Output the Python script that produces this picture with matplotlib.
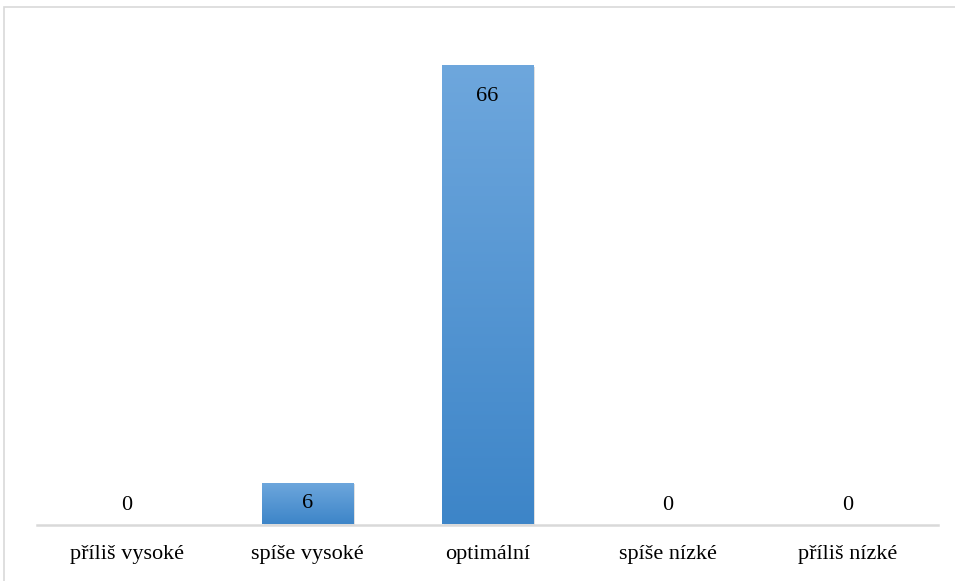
import matplotlib
matplotlib.use("Agg")
import matplotlib.pyplot as plt
import numpy as np
from matplotlib.patches import Rectangle
from matplotlib.colors import LinearSegmentedColormap

categories = ["příliš vysoké", "spíše vysoké", "optimální", "spíše nízké", "příliš nízké"]
values = [0, 6, 66, 0, 0]

W, H = 955, 581
plt.rcParams['font.family'] = ['Liberation Serif', 'DejaVu Serif']
fig = plt.figure(figsize=(W/100, H/100), dpi=100)

# outer frame
fig.patches.append(Rectangle((3.5/W, -0.01), 1.2, (H-7.5)/H + 0.01, transform=fig.transFigure,
                             fill=False, edgecolor='#d9d9d9', linewidth=1.2))

left, right, bottom, top = 37, 938, 524.5, 37.5
ax = fig.add_axes([left/W, 1-bottom/H, (right-left)/W, (bottom-top)/H])
x = np.arange(len(categories))
bars = ax.bar(x, values, width=0.505, color='none', edgecolor='none')
grad = np.linspace(1, 0, 256).reshape(-1, 1)
cmap = LinearSegmentedColormap.from_list('g', ['#3d85c8', '#6ea7dd'])
for b, v in zip(bars, values):
    if v > 0:
        xx, w = b.get_x(), b.get_width()
        ax.add_patch(Rectangle((xx + 0.012, 0), w, v - 0.25, facecolor='#000000', alpha=0.12,
                               edgecolor='none', zorder=1))
        im = ax.imshow(grad, extent=[xx, xx + w, 0, v], aspect='auto', cmap=cmap,
                       vmin=0, vmax=1, zorder=2, origin='upper')
        im.set_clip_path(b)

fs = 16
for xi, v in zip(x, values):
    if v == 0:
        off = 22
    elif v < 10:
        off = -18
    else:
        off = -29
    ax.annotate(str(v), (xi, v), xytext=(0, off * 0.72), textcoords='offset points',
                ha='center', va='center_baseline', fontsize=fs, zorder=5)

ax.set_xlim(-0.5, len(categories) - 0.5)
ax.set_ylim(0, 70)
ax.set_yticks([])
ax.set_xticks(x)
ax.set_xticklabels(categories, fontsize=fs)
ax.tick_params(axis='x', length=0, pad=15)
for s in ['top', 'right', 'left']:
    ax.spines[s].set_visible(False)
ax.spines['bottom'].set_color('#d9d9d9')
ax.spines['bottom'].set_linewidth(1.8)
ax.patch.set_visible(False)

fig.savefig('out.png', dpi=100)
